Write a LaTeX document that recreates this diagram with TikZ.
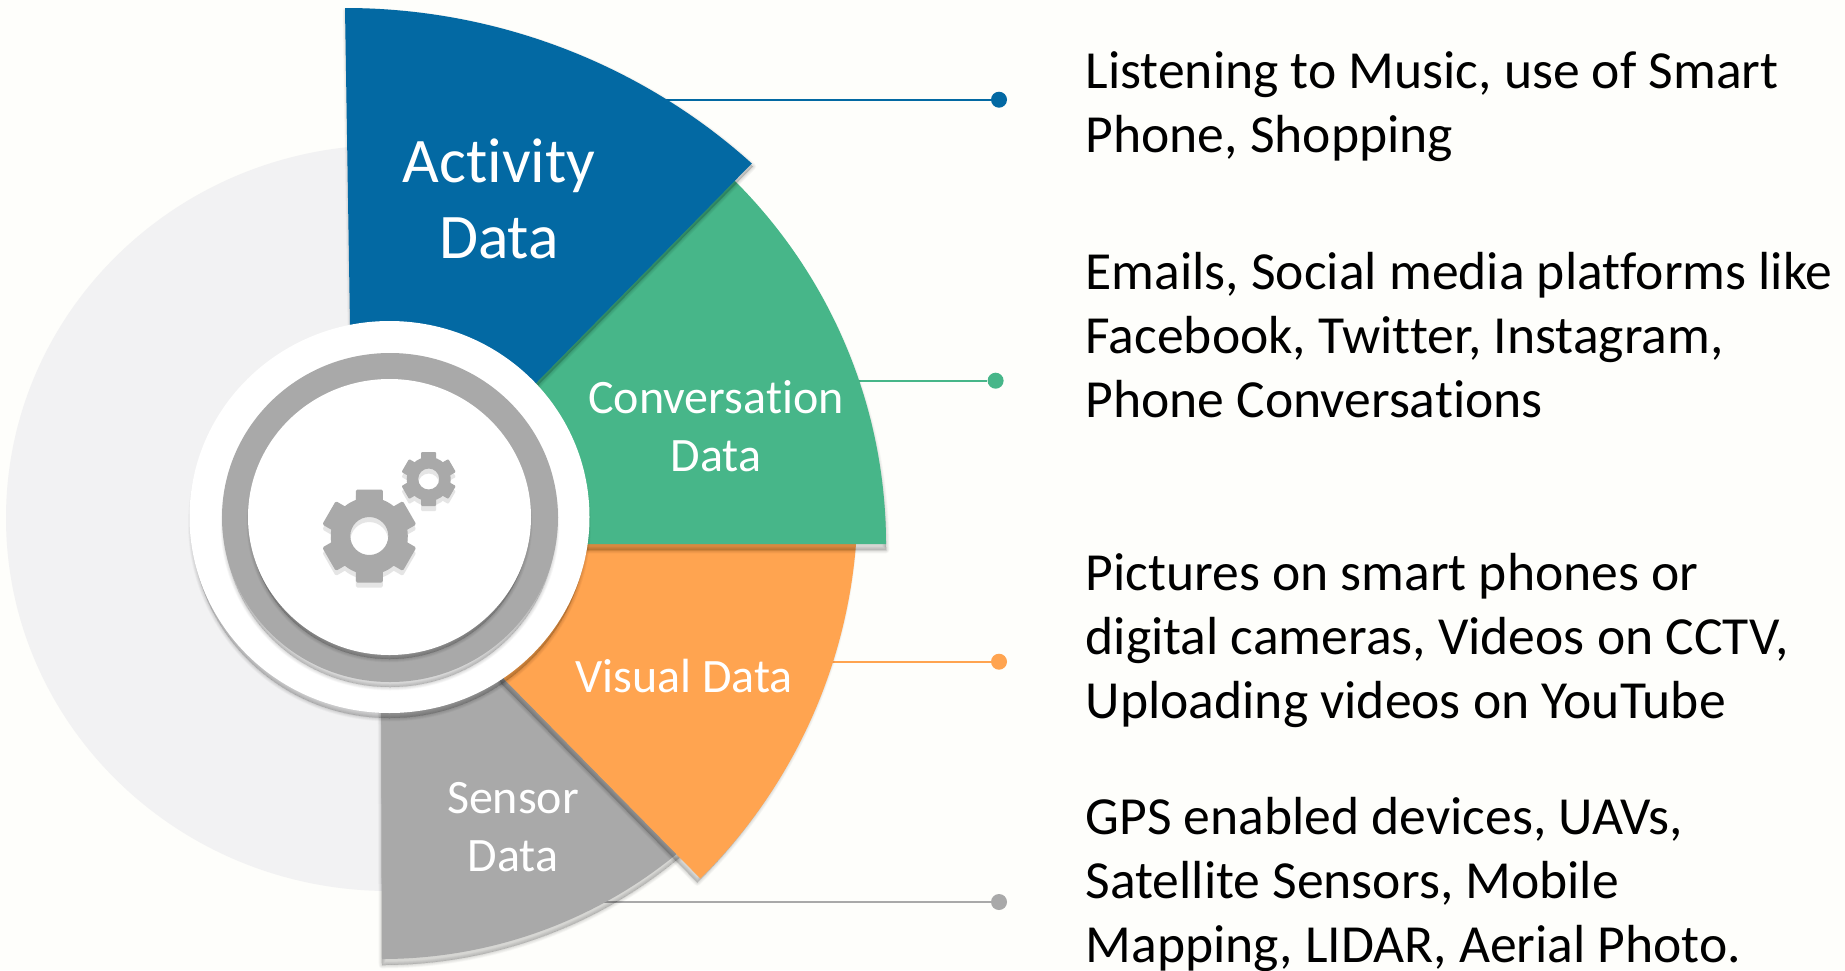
\documentclass[tikz,border=0pt]{standalone}
\usepackage{fontspec}
\setmainfont{Carlito}[Ligatures={NoCommon}]
\definecolor{pagebg}{HTML}{FEFEFB}
\definecolor{bgdisc}{HTML}{F2F2F3}
\definecolor{actblue}{HTML}{0369A3}
\definecolor{congreen}{HTML}{47B689}
\definecolor{visorange}{HTML}{FFA450}
\definecolor{sengray}{HTML}{A9A9A9}
\tikzset{
  x=1pt,y=1pt,
  softshadow/.style={fill=black,draw=black,opacity=0.018,line join=round},
  dotmark/.style={circle,inner sep=0pt,minimum size=16pt},
  linklabel/.style={line width=2pt},
  seclabel/.style={text=white,align=center,inner sep=0pt},
  desc/.style={anchor=north west,align=left,inner sep=0pt,text=black,font=\fontsize{53.6}{64}\selectfont},
}
\newcommand{\softly}[2]{%
  \foreach \w in {0,1,2,3,4,5,6,7}{\fill[softshadow,line width=\w pt,shift={(#1)}] #2;}%
}
\newcommand{\geartrain}[1]{%
  \fill[#1,even odd rule] (369.3,-536) circle[radius=38.5] (369.3,-536) circle[radius=19];
  \foreach \a in {90,150,...,390}{
    \fill[#1,rounded corners=1.5pt,shift={(369.3,-536)},rotate=\a] (30,-13.5) -- (46.5,-13.5) -- (46.5,13.5) -- (30,13.5) -- cycle;
  }
  \fill[#1,even odd rule] (428.7,-479) circle[radius=22] (428.7,-479) circle[radius=10.5];
  \foreach \a in {90,150,...,390}{
    \fill[#1,rounded corners=1pt,shift={(428.7,-479)},rotate=\a] (17,-7.5) -- (27,-7.5) -- (27,7.5) -- (17,7.5) -- cycle;
  }
}
\begin{document}
\begin{tikzpicture}
\useasboundingbox (0,-970) rectangle (1845,0);
\fill[pagebg] (0,-970) rectangle (1845,0);
\def\pblue{(345,-8) arc[start angle=90,end angle=47.4,x radius=601,y radius=589] -- (537,-382) -- (500,-420) -- (351.5,-420) -- cycle}
\def\pgreen{(886,-544) arc[start angle=0,end angle=45.5,x radius=522,y radius=516] -- (600,-200) -- (500,-420) -- (540,-544) -- cycle}
\def\porange{(856,-544) arc[start angle=-4.5,end angle=-45.4,radius=528] -- (505,-680) -- (480,-640) -- (500,-544) -- cycle}
\def\pgray{(382,-959) arc[start angle=-90,end angle=-39.5,x radius=459,y radius=450] -- (505,-680) -- (480,-640) -- (381,-640) -- cycle}
\begin{scope}
 \clip (0,-970) rectangle (382,0);
 \fill[bgdisc] (389,-518) ellipse[x radius=383,y radius=373];
\end{scope}
% connectors
\node[dotmark,fill=actblue] (d1) at (999,-99.7) {};
\node[dotmark,fill=congreen] (d2) at (995.6,-380.7) {};
\node[dotmark,fill=visorange] (d3) at (999,-661.7) {};
\node[dotmark,fill=sengray] (d4) at (999,-902) {};
\coordinate (s1) at (660,-99.7);
\coordinate (s2) at (855,-380.7);
\coordinate (s3) at (830,-661.7);
\coordinate (s4) at (600,-902);
\draw[linklabel,actblue] (s1) -- (d1);
\draw[linklabel,congreen] (s2) -- (d2);
\draw[linklabel,visorange] (s3) -- (d3);
\draw[linklabel,sengray] (s4) -- (d4);
% sectors
\softly{0,-6}{\pgray}
\fill[sengray] \pgray;
\softly{-3,-4}{\porange}
\fill[visorange] \porange;
\softly{0,-6}{\pgreen}
\fill[congreen] \pgreen;
\softly{1,-3}{\pblue}
\fill[actblue] \pblue;
% hub
\softly{0,-7}{(389.5,-517) ellipse[x radius=198,y radius=194]}
\fill[white] (389.5,-517) ellipse[x radius=200,y radius=196];
\softly{0,-7}{(390,-517.5) ellipse[x radius=166,y radius=162.5]}
\fill[sengray] (390,-517.5) ellipse[x radius=168,y radius=164.5];
\softly{0,-6}{(389.5,-517) ellipse[x radius=139.5,y radius=136]}
\fill[white] (389.5,-517) ellipse[x radius=141.5,y radius=138];
% gears
\begin{scope}[shift={(0,-5)}]
\geartrain{black!10}
\end{scope}
\geartrain{sengray}
% labels
\node[seclabel,font=\fontsize{63.5}{76}\selectfont] (lab1) at (499,-199) {Activity\\Data};
\node[seclabel,font=\fontsize{48}{58}\selectfont] (lab2) at (716,-426) {Conversation\\Data};
\node[seclabel,font=\fontsize{48}{58}\selectfont] (lab3) at (684,-676) {Visual Data};
\node[seclabel,font=\fontsize{48}{58}\selectfont] (lab4) at (513,-827) {Sensor\\Data};
% descriptions
\node[desc] (t1) at (1085.5,-51) {Listening to Music, use of Smart\\Phone, Shopping};
\node[desc] (t2) at (1085.5,-252) {Emails, Social media platforms like\\Facebook, Twitter, Instagram,\\Phone Conversations};
\node[desc] (t3) at (1085.5,-553) {Pictures on smart phones or\\digital cameras, Videos on CCTV,\\Uploading videos on YouTube};
\node[desc] (t4) at (1085.5,-797) {GPS enabled devices, UAVs,\\Satellite Sensors, Mobile\\Mapping, LIDAR, Aerial Photo.};
\end{tikzpicture}
\end{document}
